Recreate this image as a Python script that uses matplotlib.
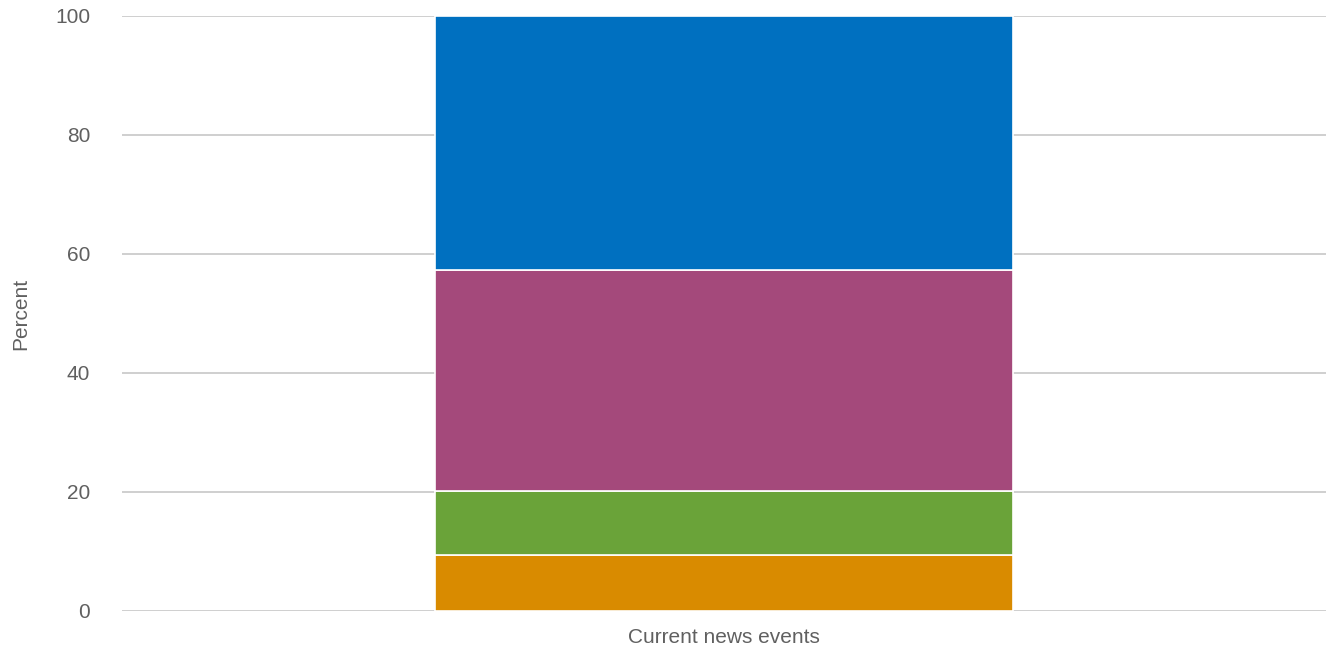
import matplotlib
matplotlib.use("Agg")
import matplotlib.pyplot as plt

plt.rcParams['font.family'] = ['Liberation Sans', 'DejaVu Sans']

categories = ["Current news events"]
# stacked segments, bottom to top (percent)
seg_orange = [9.4]
seg_green = [10.7]
seg_purple = [37.2]
seg_blue = [42.7]
yticks = [0, 20, 40, 60, 80, 100]

series = [seg_orange, seg_green, seg_purple, seg_blue]
colors = ["#D98B00", "#6AA339", "#A4497B", "#0070C0"]

fig = plt.figure(figsize=(13.33, 6.52), dpi=100)
ax = fig.add_axes([0.0915, 0.0629, 0.9035, 0.9126])

x = list(range(len(categories)))
bottom = [0.0] * len(categories)
for vals, col in zip(series, colors):
    ax.bar(x, vals, bottom=bottom, width=0.48, color=col,
           edgecolor="white", linewidth=1.2, zorder=3)
    bottom = [b + v for b, v in zip(bottom, vals)]

ax.set_xlim(-0.5, 0.5)
ax.set_ylim(0, 100)
ax.set_yticks(yticks)
ax.set_xticks(x)
ax.set_xticklabels(categories)
ax.yaxis.grid(True, color="#cccccc", linewidth=1.3, zorder=0)
ax.set_axisbelow(True)
for s in ax.spines.values():
    s.set_visible(False)
ax.tick_params(axis="both", length=0, colors="#606060", labelsize=15)
ax.tick_params(axis="y", pad=23)
ax.tick_params(axis="x", pad=12)
ax.set_ylabel("Percent", color="#606060", fontsize=15, labelpad=18)

fig.savefig("out.png", dpi=100, facecolor="white")
